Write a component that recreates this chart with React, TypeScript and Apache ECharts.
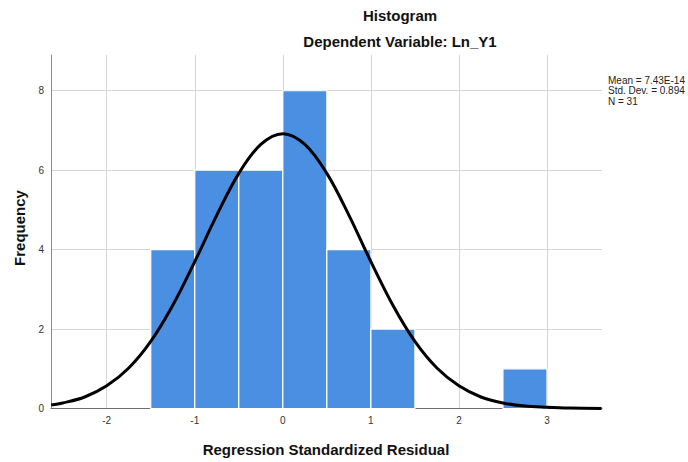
import React, { useEffect, useRef } from "react";
import * as echarts from "echarts";

// Histogram bins (Regression Standardized Residual)
const binStarts = [-1.5, -1.0, -0.5, 0.0, 0.5, 1.0, 2.5];
const binEnds = [-1.0, -0.5, 0.0, 0.5, 1.0, 1.5, 3.0];
const counts = [4, 6, 6, 8, 4, 2, 1];

// Normal curve points
const curveX = [-2.63, -2.5, -2.25, -2.0, -1.75, -1.5, -1.25, -1.0, -0.75, -0.5, -0.25, 0.0, 0.25, 0.5, 0.75, 1.0, 1.25, 1.5, 1.75, 2.0, 2.25, 2.5, 2.75, 3.0, 3.25, 3.62];
const curveY = [0.09, 0.14, 0.29, 0.57, 1.02, 1.69, 2.6, 3.7, 4.87, 5.92, 6.65, 6.92, 6.65, 5.92, 4.87, 3.7, 2.6, 1.69, 1.02, 0.57, 0.29, 0.14, 0.06, 0.03, 0.01, 0.0];

const xTicks = [-2, -1, 0, 1, 2, 3];
const yTicks = [0, 2, 4, 6, 8];
const statsLines = ["Mean = 7.43E-14", "Std. Dev. = 0.894", "N = 31"];

const FONT = "Arial, 'Liberation Sans', sans-serif";

export default function App() {
  const ref = useRef<HTMLDivElement>(null);
  useEffect(() => {
    if (!ref.current) return;
    const chart = echarts.init(ref.current, undefined, { renderer: "svg" });
    chart.setOption({
      animation: false,
      backgroundColor: "#ffffff",
      textStyle: { fontFamily: FONT },
      grid: { left: 51, right: 86, top: 55, bottom: 53.5, containLabel: false },
      xAxis: {
        type: "value",
        min: -2.633,
        max: 3.625,
        axisLine: { show: true, onZero: false, lineStyle: { color: "#6e6e6e", width: 1 } },
        axisTick: { show: false, customValues: xTicks },
        axisLabel: { customValues: xTicks, color: "#333", fontSize: 10, margin: 7, fontFamily: FONT },
        splitLine: { show: true, lineStyle: { color: "#d6d6d6", width: 1 } },
      },
      yAxis: {
        type: "value",
        min: 0,
        max: 8.9,
        axisLine: { show: true, onZero: false, lineStyle: { color: "#8a8a8a", width: 1 } },
        axisTick: { show: false, customValues: yTicks },
        axisLabel: { customValues: yTicks, color: "#333", fontSize: 10, margin: 7, fontFamily: FONT },
        splitLine: { show: true, lineStyle: { color: "#d6d6d6", width: 1 } },
      },
      series: [
        {
          type: "custom",
          data: binStarts.map((s, i) => [s, binEnds[i], counts[i]]),
          encode: { x: [0, 1], y: 2 },
          z: 2,
          renderItem: (params: any, api: any) => {
            const p0 = api.coord([api.value(0), api.value(2)]);
            const p1 = api.coord([api.value(1), 0]);
            return {
              type: "rect",
              shape: { x: p0[0], y: p0[1], width: p1[0] - p0[0], height: p1[1] - p0[1] },
              style: { fill: "#4a8fe2", stroke: "#ffffff", lineWidth: 1.2 },
            };
          },
        },
        {
          type: "line",
          data: curveX.map((x, i) => [x, curveY[i]]),
          showSymbol: false,
          smooth: 0.35,
          z: 5,
          lineStyle: { color: "#000000", width: 3 },
        },
      ],
      graphic: [
        {
          type: "text",
          x: 400,
          y: 15,
          style: { text: "Histogram", font: `bold 15px ${FONT}`, fill: "#111", textAlign: "center", textVerticalAlign: "middle" },
        },
        {
          type: "text",
          x: 400,
          y: 41,
          style: { text: "Dependent Variable: Ln_Y1", font: `bold 15px ${FONT}`, fill: "#111", textAlign: "center", textVerticalAlign: "middle" },
        },
        {
          type: "text",
          x: 326,
          y: 449,
          style: { text: "Regression Standardized Residual", font: `bold 15px ${FONT}`, fill: "#111", textAlign: "center", textVerticalAlign: "middle" },
        },
        {
          type: "text",
          x: 19,
          y: 228,
          rotation: Math.PI / 2,
          style: { text: "Frequency", font: `bold 15px ${FONT}`, fill: "#111", textAlign: "center", textVerticalAlign: "middle" },
        },
        ...statsLines.map((t, i) => ({
          type: "text",
          x: 608,
          y: 80 + i * 10.5,
          style: { text: t, font: `10px ${FONT}`, fill: "#222", textAlign: "left", textVerticalAlign: "middle" },
        })),
      ],
    });
    return () => chart.dispose();
  }, []);
  return <div ref={ref} style={{ position: "absolute", left: 0, top: 0, width: 688, height: 462 }} />;
}
